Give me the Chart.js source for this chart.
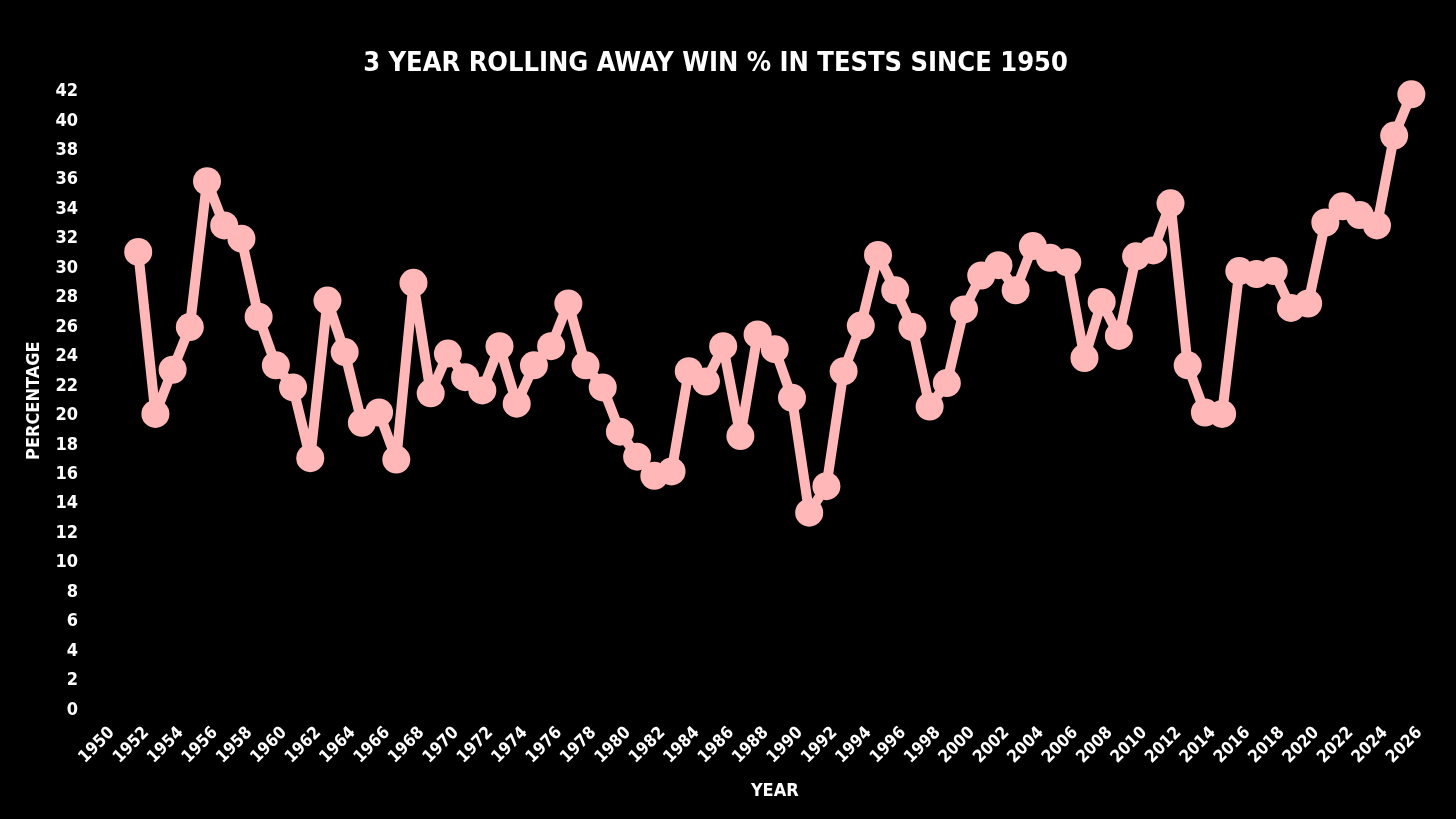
<!DOCTYPE html>
<html>
<head>
<meta charset="utf-8">
<title>3 Year Rolling Away Win %</title>
<script src="https://cdn.jsdelivr.net/npm/chart.js@4.4.1/dist/chart.umd.min.js"></script>
<style>
    html, body { margin: 0; padding: 0; background: #000; }
    #wrap { width: 1456px; height: 819px; }
</style>
</head>
<body>
<div id="wrap"><canvas id="chart"></canvas></div>
<script>
    // Years (end of each 3-year window)
    const years = [
        1951, 1952, 1953, 1954, 1955, 1956, 1957, 1958, 1959, 1960,
        1961, 1962, 1963, 1964, 1965, 1966, 1967, 1968, 1969, 1970,
        1971, 1972, 1973, 1974, 1975, 1976, 1977, 1978, 1979, 1980,
        1981, 1982, 1983, 1984, 1985, 1986, 1987, 1988, 1989, 1990,
        1991, 1992, 1993, 1994, 1995, 1996, 1997, 1998, 1999, 2000,
        2001, 2002, 2003, 2004, 2005, 2006, 2007, 2008, 2009, 2010,
        2011, 2012, 2013, 2014, 2015, 2016, 2017, 2018, 2019, 2020,
        2021, 2022, 2023, 2024, 2025
    ];

    // Rolling away win %
    const winPct = [
        31.1, 20.1, 23.1, 26.0, 35.9, 32.9, 32.0, 26.7, 23.4, 21.9,
        17.1, 27.8, 24.3, 19.5, 20.2, 17.0, 29.0, 21.5, 24.2, 22.6,
        21.7, 24.7, 20.8, 23.4, 24.7, 27.6, 23.4, 21.9, 18.9, 17.2,
        15.9, 16.2, 23.0, 22.3, 24.7, 18.6, 25.5, 24.5, 21.2, 13.4,
        15.2, 23.0, 26.1, 30.9, 28.5, 26.0, 20.6, 22.2, 27.2, 29.5,
        30.2, 28.5, 31.5, 30.7, 30.4, 23.9, 27.7, 25.4, 30.8, 31.2,
        34.4, 23.4, 20.2, 20.1, 29.8, 29.6, 29.8, 27.3, 27.6, 33.1,
        34.2, 33.6, 32.9, 39.0, 41.8
    ];

    // Axis ranges
    const xRange = [1950, 2026];
    const yRange = [0, 42];

    const FONT = '"DejaVu Sans Condensed", "DejaVu Sans", sans-serif';
    const PINK = '#ffb7b7';

    const points = years.map((y, i) => ({ x: y, y: winPct[i] }));

    new Chart(document.getElementById('chart').getContext('2d'), {
        type: 'line',
        data: {
            datasets: [{
                data: points,
                borderColor: PINK,
                backgroundColor: PINK,
                borderWidth: 10,
                borderJoinStyle: 'round',
                borderCapStyle: 'round',
                pointRadius: 14,
                pointBorderWidth: 0,
                pointBackgroundColor: PINK,
                tension: 0,
                clip: false
            }]
        },
        options: {
            responsive: true,
            maintainAspectRatio: false,
            animation: false,
            layout: { padding: { left: 0, right: 25, top: 0, bottom: 0 } },
            plugins: {
                legend: { display: false },
                tooltip: { enabled: false },
                title: {
                    display: true,
                    text: '3 YEAR ROLLING AWAY WIN % IN TESTS SINCE 1950',
                    color: '#fff',
                    font: { family: FONT, size: 27, weight: 'bold' },
                    padding: { top: 48, bottom: 11 }
                }
            },
            scales: {
                x: {
                    type: 'linear',
                    min: xRange[0],
                    max: xRange[1],
                    grid: { display: false, drawTicks: false },
                    border: { display: false },
                    afterFit(scale) { scale.height = 109; },
                    ticks: {
                        stepSize: 2,
                        autoSkip: false,
                        minRotation: 45,
                        maxRotation: 45,
                        padding: 13,
                        labelOffset: -9,
                        color: '#fff',
                        font: { family: FONT, size: 17, weight: 'bold' },
                        callback: (v) => String(v)
                    },
                    title: {
                        display: true,
                        text: 'YEAR',
                        color: '#fff',
                        font: { family: FONT, size: 18, weight: 'bold' },
                        padding: { top: 0, bottom: 17 }
                    }
                },
                y: {
                    min: yRange[0],
                    max: yRange[1],
                    grid: { display: false, drawTicks: false },
                    border: { display: false },
                    afterFit(scale) { scale.width = 121; },
                    ticks: {
                        stepSize: 2,
                        padding: 43,
                        color: '#fff',
                        font: { family: FONT, size: 18, weight: 'bold' }
                    },
                    title: {
                        display: true,
                        text: 'PERCENTAGE',
                        color: '#fff',
                        font: { family: FONT, size: 18, weight: 'bold' },
                        padding: { top: 24, bottom: 0 }
                    }
                }
            }
        }
    });
</script>
</body>
</html>
